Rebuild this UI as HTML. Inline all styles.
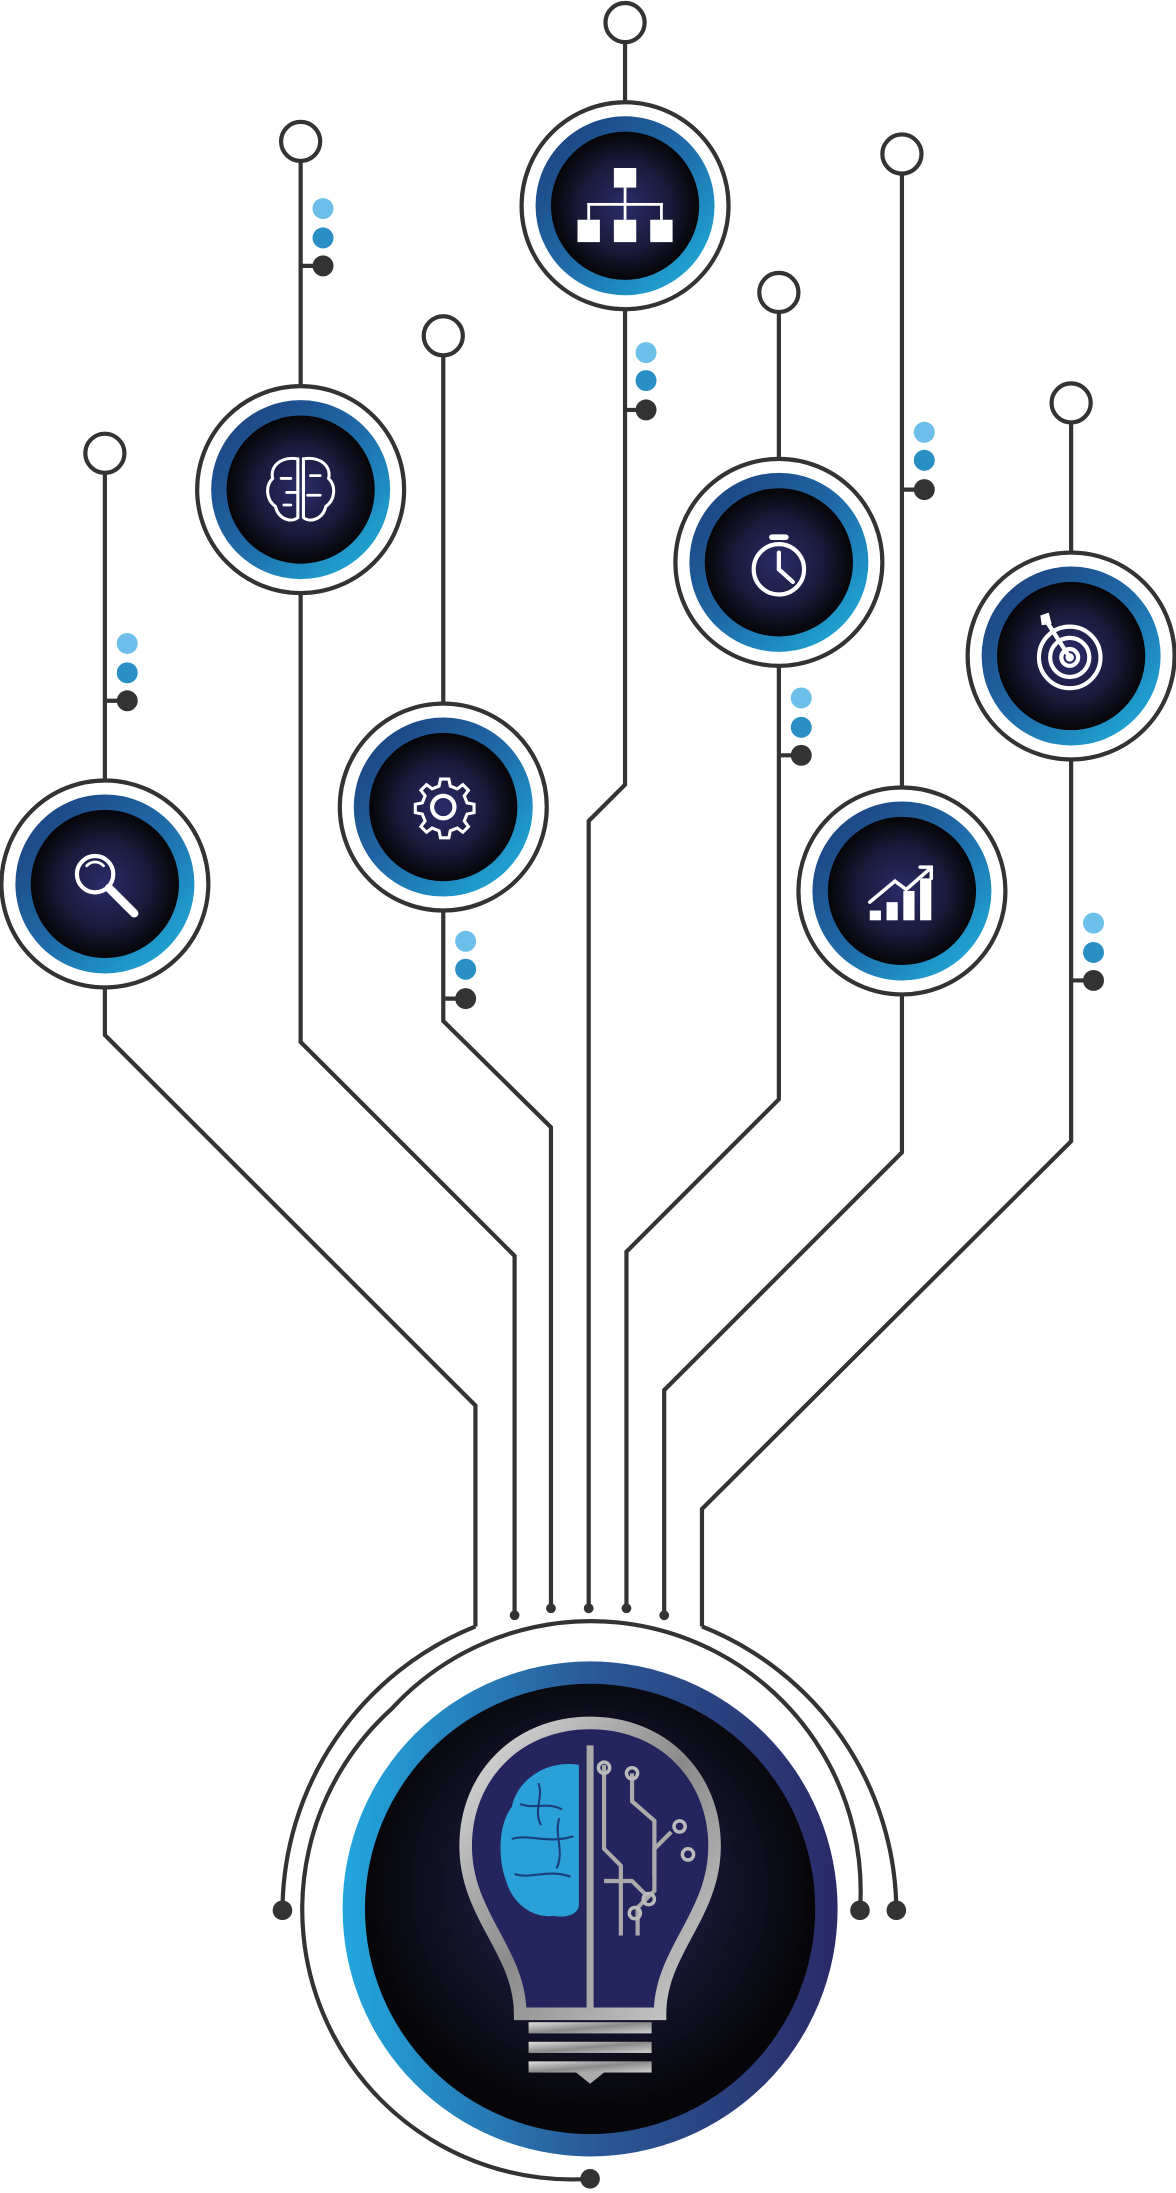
<!DOCTYPE html>
<html><head><meta charset="utf-8"><style>
html,body{margin:0;padding:0;background:#fff;}
svg{display:block;}
</style></head><body>
<svg width="1176" height="2193" viewBox="0 0 841 1568" xmlns="http://www.w3.org/2000/svg">
<defs>
<linearGradient id="ring" x1="0" y1="0" x2="1" y2="1">
<stop offset="0" stop-color="#1d3a78"/><stop offset="0.5" stop-color="#1f6aa8"/><stop offset="1" stop-color="#1fb6e0"/>
</linearGradient>
<radialGradient id="core" cx="0.5" cy="0.5" r="0.5">
<stop offset="0" stop-color="#2a2c6a"/><stop offset="0.6" stop-color="#1a1a3a"/><stop offset="1" stop-color="#050508"/>
</radialGradient>
<linearGradient id="bigring" x1="0" y1="0.5" x2="1" y2="0.5">
<stop offset="0" stop-color="#22a6de"/><stop offset="0.5" stop-color="#2a5a98"/><stop offset="1" stop-color="#2a2a68"/>
</linearGradient>
<radialGradient id="bigcore" cx="0.5" cy="0.45" r="0.5">
<stop offset="0" stop-color="#2b2e6e"/><stop offset="0.55" stop-color="#151530"/><stop offset="1" stop-color="#060608"/>
</radialGradient>
<linearGradient id="metal" x1="0" y1="0" x2="1" y2="1">
<stop offset="0" stop-color="#e0e0e0"/><stop offset="0.5" stop-color="#8a8a8a"/><stop offset="1" stop-color="#cfcfcf"/>
</linearGradient>
<g id="node">
<circle r="74" fill="#fff" stroke="#333" stroke-width="3"/>
<circle r="64" fill="url(#ring)"/>
<circle r="53" fill="url(#core)"/>
</g>
</defs>
<g fill="none" stroke="#333" stroke-width="3">
<!-- top stems -->
<line x1="75" y1="338" x2="75" y2="558"/>
<line x1="215" y1="115" x2="215" y2="276"/>
<line x1="317" y1="254" x2="317" y2="503"/>
<line x1="447" y1="30" x2="447" y2="73"/>
<line x1="557" y1="223" x2="557" y2="328"/>
<line x1="645" y1="124" x2="645" y2="563"/>
<line x1="766" y1="302" x2="766" y2="395"/>
<!-- dot ticks -->
<line x1="75" y1="501" x2="91" y2="501"/>
<line x1="215" y1="190" x2="231" y2="190"/>
<line x1="317" y1="714" x2="333" y2="714"/>
<line x1="447" y1="293" x2="462" y2="293"/>
<line x1="557" y1="540" x2="573" y2="540"/>
<line x1="645" y1="350" x2="661" y2="350"/>
<line x1="766" y1="701" x2="782" y2="701"/>
<!-- bottom branches -->
<polyline points="75,706 75,740 340,1005 340,1163"/>
<polyline points="215,424 215,745 368,898 368,1155"/>
<polyline points="317,651 317,730 394,806 394,1150"/>
<polyline points="447,221 447,561 421,587 421,1150"/>
<polyline points="557,476 557,786 448,895 448,1150"/>
<polyline points="645,711 645,824 475,994 475,1155"/>
<polyline points="766,543 766,816 502,1079 502,1163"/>
<!-- outer arcs -->
<path d="M340,1163 A220,220 0 0 0 202,1366"/>
<path d="M502,1163 A220,220 0 0 1 641,1366"/>
<path d="M615,1366 A193,193 0 0 0 280,1222 A193,193 0 0 0 422,1558"/>
</g>
<!-- top small circles -->
<g fill="#fff" stroke="#333" stroke-width="3">
<circle cx="75" cy="324" r="14"/><circle cx="215" cy="101" r="14"/><circle cx="317" cy="240" r="14"/>
<circle cx="447" cy="16" r="14"/><circle cx="557" cy="209" r="14"/><circle cx="645" cy="110" r="14"/><circle cx="766" cy="288" r="14"/>
</g>
<!-- dots -->
<g>
<circle cx="91" cy="460" r="7.5" fill="#6bbfe8"/><circle cx="91" cy="481" r="7.5" fill="#2a8fc4"/><circle cx="91" cy="501" r="7.5" fill="#333"/>
<circle cx="231" cy="149" r="7.5" fill="#6bbfe8"/><circle cx="231" cy="170" r="7.5" fill="#2a8fc4"/><circle cx="231" cy="190" r="7.5" fill="#333"/>
<circle cx="333" cy="673" r="7.5" fill="#6bbfe8"/><circle cx="333" cy="693" r="7.5" fill="#2a8fc4"/><circle cx="333" cy="714" r="7.5" fill="#333"/>
<circle cx="462" cy="252" r="7.5" fill="#6bbfe8"/><circle cx="462" cy="272" r="7.5" fill="#2a8fc4"/><circle cx="462" cy="293" r="7.5" fill="#333"/>
<circle cx="573" cy="499" r="7.5" fill="#6bbfe8"/><circle cx="573" cy="520" r="7.5" fill="#2a8fc4"/><circle cx="573" cy="540" r="7.5" fill="#333"/>
<circle cx="661" cy="309" r="7.5" fill="#6bbfe8"/><circle cx="661" cy="329" r="7.5" fill="#2a8fc4"/><circle cx="661" cy="350" r="7.5" fill="#333"/>
<circle cx="782" cy="660" r="7.5" fill="#6bbfe8"/><circle cx="782" cy="681" r="7.5" fill="#2a8fc4"/><circle cx="782" cy="701" r="7.5" fill="#333"/>
</g>
<g fill="#333">
<circle cx="368" cy="1155" r="3.5"/><circle cx="394" cy="1150" r="3.5"/><circle cx="421" cy="1150" r="3.5"/>
<circle cx="448" cy="1150" r="3.5"/><circle cx="475" cy="1155" r="3.5"/>
<circle cx="202" cy="1366" r="7"/><circle cx="615" cy="1366" r="7"/><circle cx="641" cy="1366" r="7"/><circle cx="422" cy="1558" r="7"/>
</g>
<!-- nodes -->
<use href="#node" x="75" y="632"/>
<use href="#node" x="215" y="350"/>
<use href="#node" x="317" y="577"/>
<use href="#node" x="447" y="147"/>
<use href="#node" x="557" y="402"/>
<use href="#node" x="645" y="637"/>
<use href="#node" x="766" y="469"/>
<!-- icons -->
<g stroke="#fff" fill="none" stroke-width="3" stroke-linecap="round">
<circle cx="68" cy="625" r="13"/><line x1="78" y1="635" x2="96" y2="653" stroke-width="6"/>
<path d="M62,619 A8,8 0 0 1 74,619" stroke-width="2"/>
<!-- brain -->
<path d="M213,328 C200,326 193,334 195,342 C189,348 191,358 197,362 C199,371 208,374 213,370 Z" stroke-width="2.2"/>
<path d="M217,328 C230,326 237,334 235,342 C241,348 239,358 233,362 C231,371 222,374 217,370 Z" stroke-width="2.2"/>
<path d="M201,342 h7 M205,352 h8 M222,340 h7 M220,354 h9 M203,361 h5" stroke-width="2"/>
<!-- gear -->
<circle cx="317" cy="577" r="8"/>
<path d="M317,557 l4,0 1,5 5,2 4,-3 4,4 -3,4 2,5 5,1 0,6 -5,1 -2,5 3,4 -4,4 -4,-3 -5,2 -1,5 -6,0 -1,-5 -5,-2 -4,3 -4,-4 3,-4 -2,-5 -5,-1 0,-6 5,-1 2,-5 -3,-4 4,-4 4,3 5,-2 1,-5 z" stroke-width="2.2"/>
<!-- stopwatch -->
<circle cx="557" cy="407" r="18"/><line x1="557" y1="407" x2="557" y2="395"/><line x1="557" y1="407" x2="567" y2="416"/>
<line x1="552" y1="384" x2="562" y2="384" stroke-width="4"/>
<!-- chart arrow -->
<path d="M622,645 L640,630 648,636 664,622" stroke-width="2.5"/><path d="M658,620 h8 v8" stroke-width="2.5"/>
<!-- target -->
<circle cx="765" cy="470" r="22"/><circle cx="765" cy="470" r="14"/><circle cx="765" cy="470" r="6"/>
<line x1="765" y1="470" x2="747" y2="442"/>
</g>
<g fill="#fff">
<circle cx="765" cy="470" r="3"/>
<path d="M744,440 l6,-2 2,8 -7,1z"/>
<!-- org chart -->
<rect x="439" y="120" width="16" height="14"/>
<rect x="413" y="157" width="16" height="16"/><rect x="439" y="157" width="16" height="16"/><rect x="465" y="157" width="16" height="16"/>
<rect x="446" y="134" width="2" height="23"/><rect x="420" y="145" width="54" height="2"/><rect x="420" y="145" width="2" height="12"/><rect x="472" y="145" width="2" height="12"/>
<!-- bars -->
<rect x="622" y="651" width="8" height="7"/><rect x="634" y="645" width="8" height="13"/><rect x="646" y="637" width="8" height="21"/><rect x="658" y="628" width="8" height="30"/>
</g>
<!-- big circle -->
<circle cx="422" cy="1365" r="177" fill="url(#bigring)"/>
<circle cx="422" cy="1365" r="161" fill="url(#bigcore)"/>
<!-- bulb -->
<path d="M422,1232 C370,1232 333,1270 333,1320 C333,1370 372,1395 372,1440 L472,1440 C472,1395 511,1370 511,1320 C511,1270 474,1232 422,1232 Z" fill="#24245e" stroke="url(#metal)" stroke-width="9"/>
<line x1="422" y1="1248" x2="422" y2="1440" stroke="#aaa" stroke-width="5"/>
<path d="M414,1262 C392,1258 370,1272 366,1292 C356,1305 356,1330 362,1345 C366,1360 380,1372 396,1370 C406,1372 414,1368 414,1362 Z" fill="#2aa0d8"/>
<g stroke="#1a3e7a" stroke-width="1.5" fill="none">
<path d="M372,1290 c10,4 20,-2 30,4 M366,1315 c12,-4 26,4 44,-2 M368,1340 c12,4 24,-4 40,2 M385,1275 c4,10 -4,20 2,30 M400,1300 c-4,12 4,24 -2,36"/>
</g>
<g stroke="#aaa" stroke-width="3" fill="none">
<path d="M432,1262 v60 l12,12 v50"/><path d="M452,1268 v20 l16,14 v40"/><path d="M432,1345 h20 l10,10"/><path d="M480,1310 l-12,12 v30 l-12,12 v20"/>
</g>
<g fill="none" stroke="#bbb" stroke-width="2.5">
<circle cx="432" cy="1264" r="4"/><circle cx="452" cy="1268" r="4"/><circle cx="486" cy="1306" r="4"/><circle cx="492" cy="1326" r="4"/><circle cx="464" cy="1358" r="4"/><circle cx="454" cy="1368" r="4"/>
</g>
<rect x="378" y="1446" width="88" height="8" fill="url(#metal)"/>
<rect x="378" y="1460" width="88" height="8" fill="url(#metal)"/>
<rect x="378" y="1474" width="88" height="8" fill="url(#metal)"/>
<path d="M412,1482 h20 l-10,8z" fill="#aaa"/>
</svg>
</body></html>
